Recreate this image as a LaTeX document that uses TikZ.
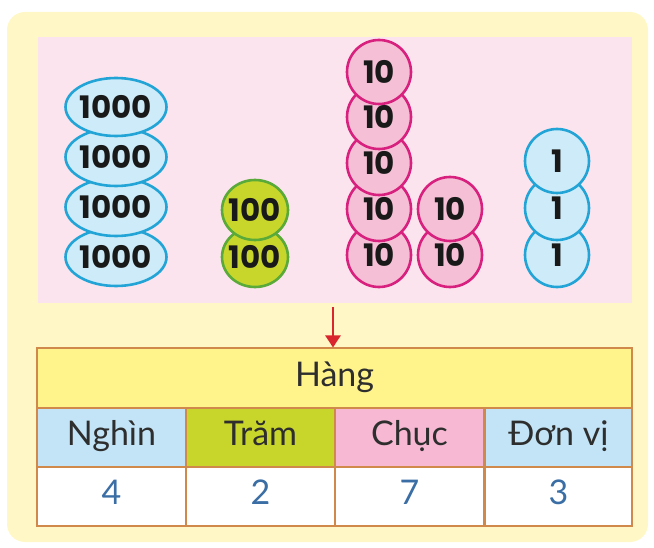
\documentclass[tikz,border=0pt]{standalone}
\usepackage{fontspec}
\setmainfont{Lato}
\newfontfamily\coinfont{Poppins}
\usetikzlibrary{arrows.meta,shapes.geometric}

\definecolor{panelyellow}{HTML}{FFF8C6}
\definecolor{panelpink}{HTML}{FCE4EE}
\definecolor{skyfill}{HTML}{CDEBF8}
\definecolor{skyline}{HTML}{22A4D6}
\definecolor{limefill}{HTML}{C8D62C}
\definecolor{limeline}{HTML}{5AAA3A}
\definecolor{rosefill}{HTML}{F5C0D5}
\definecolor{roseline}{HTML}{D8207F}
\definecolor{gridline}{HTML}{D0894A}
\definecolor{headfill}{HTML}{FFF48C}
\definecolor{bluecell}{HTML}{C2E4F6}
\definecolor{pinkcell}{HTML}{F6B8D2}
\definecolor{digitblue}{HTML}{3A6EA5}
\definecolor{arrowred}{HTML}{D9262E}
\definecolor{inkgray}{HTML}{2E2E2E}

\tikzset{
  coinlabel/.style={font=\coinfont\bfseries\fontsize{31}{31}\selectfont,
    text=black!90, inner sep=0pt},
  coin/.style={draw, line width=2.6pt, inner sep=0pt,
    label={[coinlabel]center:#1}},
  thousand/.style={coin=#1, ellipse, fill=skyfill, draw=skyline,
    minimum width=101pt, minimum height=58pt},
  hundred/.style={coin=#1, ellipse, fill=limefill, draw=limeline,
    minimum width=66pt, minimum height=60pt},
  ten/.style={coin=#1, circle, fill=rosefill, draw=roseline, minimum size=64pt},
  unit/.style={coin=#1, circle, fill=skyfill, draw=skyline, minimum size=64pt},
  cell/.style={draw=gridline, line width=2pt, rectangle, inner sep=0pt,
    minimum width=149pt, minimum height=59pt,
    text height=24pt, text depth=7pt,
    font=\fontsize{34}{34}\selectfont, text=inkgray},
  numcell/.style={cell, fill=white, text=digitblue},
}

\begin{document}
\begin{tikzpicture}[x=1pt, y=-1pt]
  \useasboundingbox (0,0) rectangle (654,548);

  % background panels
  \node[fill=panelyellow, rounded corners=18pt, minimum width=641pt,
        minimum height=530pt, inner sep=0pt] (outer) at (327.5,277) {};
  \node[fill=panelpink, minimum width=594pt, minimum height=266pt,
        inner sep=0pt] (tray) at (335,170) {};

  % thousands
  \node[thousand=1000] (k4) at (116,257) {};
  \node[thousand=1000] (k3) at (116,207) {};
  \node[thousand=1000] (k2) at (116,157) {};
  \node[thousand=1000] (k1) at (116,107) {};

  % hundreds
  \node[hundred=100] (h2) at (255,257) {};
  \node[hundred=100] (h1) at (255,210) {};

  % tens, first column
  \node[ten=10] (t5) at (379,255) {};
  \node[ten=10] (t4) at (379,209) {};
  \node[ten=10] (t3) at (379,163) {};
  \node[ten=10] (t2) at (379,117) {};
  \node[ten=10] (t1) at (379,72) {};
  % tens, second column
  \node[ten=10] (s2) at (450,255) {};
  \node[ten=10] (s1) at (450,209) {};

  % units
  \node[unit=1] (u3) at (557,255) {};
  \node[unit=1] (u2) at (557,208) {};
  \node[unit=1] (u1) at (557,161) {};

  % place-value table
  \node[cell, fill=headfill, minimum width=595pt] (hdr) at (334.5,378) {Hàng};
  \node[cell, fill=bluecell] (c1) at (111.5,437.5) {Nghìn};
  \node[cell, fill=limefill] (c2) at (260.5,437.5) {Trăm};
  \node[cell, fill=pinkcell] (c3) at (409.5,437.5) {Chục};
  \node[cell, fill=bluecell, minimum width=147pt] (c4) at (558.5,437.5) {Đơn vị};
  \node[numcell] (n1) at (111.5,496) {4};
  \node[numcell] (n2) at (260.5,496) {2};
  \node[numcell] (n3) at (409.5,496) {7};
  \node[numcell, minimum width=147pt] (n4) at (558.5,496) {3};

  % arrow down to the table
  \coordinate (arrtop) at (333,307);
  \draw[arrowred, line width=2.6pt,
        -{Triangle[width=15pt,length=12pt]}] (arrtop) -- (arrtop |- hdr.north);
\end{tikzpicture}
\end{document}
